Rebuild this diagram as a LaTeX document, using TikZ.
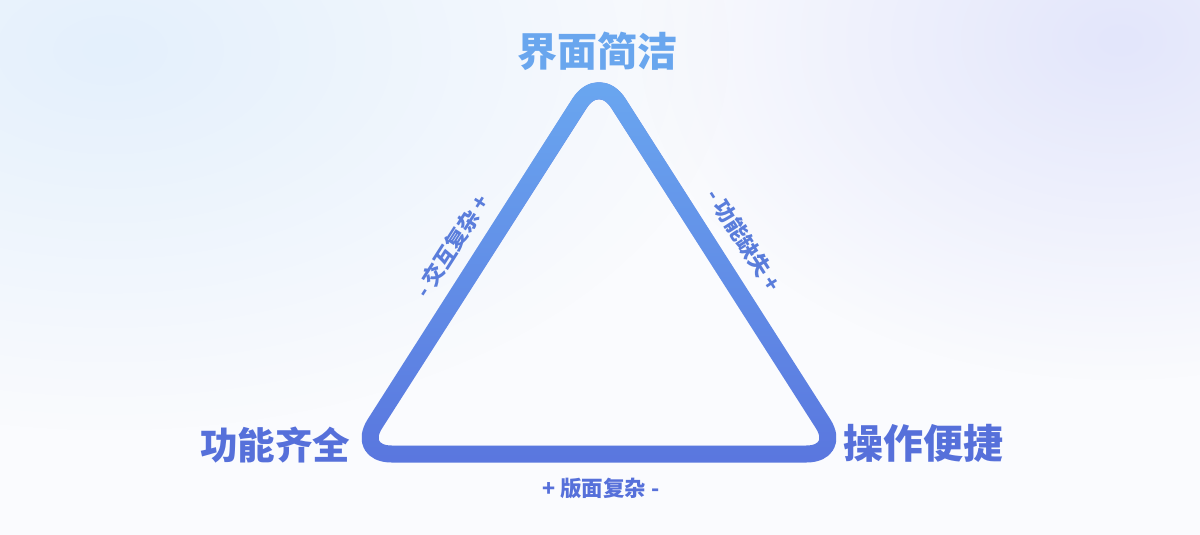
\documentclass[tikz,border=0pt]{standalone}
\usepackage{fontspec}
\newfontfamily\cjk{Noto Sans CJK SC}
\usetikzlibrary{fadings}
\definecolor{bgbase}{HTML}{FAFBFE}
\definecolor{bgA}{HTML}{E4F0FC}
\definecolor{bgB}{HTML}{E3E6FB}
\definecolor{tritop}{HTML}{6BA9F1}
\definecolor{tribot}{HTML}{5A77DF}
\definecolor{toptxt}{HTML}{69A6EE}
\definecolor{sidetxt}{HTML}{5670DA}
\definecolor{edgetxt}{HTML}{5A7DDB}
\tikzfading[name=radfade, inner color=transparent!0, outer color=transparent!100]
\tikzset{
  corner/.style={font=\cjk\bfseries\fontsize{40}{44}\selectfont, inner sep=0pt},
  edgelabel/.style={font=\cjk\bfseries\fontsize{21.5}{24}\selectfont, inner sep=0pt, text=edgetxt},
  tri/.style={line width=17pt, rounded corners=36pt, line join=round}
}
\begin{document}
\begin{tikzpicture}[x=1pt,y=-1pt]
\useasboundingbox (0,0) rectangle (1200,535);
% background
\fill[bgbase] (0,0) rectangle (1200,535);
\begin{scope}
\clip (0,0) rectangle (1200,535);
\fill[bgA, path fading=radfade] (110,50) ellipse [x radius=620, y radius=380];
\fill[bgB, path fading=radfade] (1120,40) ellipse [x radius=480, y radius=340];
\end{scope}
% triangle
\coordinate (A) at (599,73);
\coordinate (B) at (355.6,454);
\coordinate (C) at (842.4,454);
\coordinate (M) at (599,454);
\draw[tri, tribot] (M) -- (C) -- (A) -- (B) -- cycle;
\draw[tri, tritop, path fading=south] (M) -- (C) -- (A) -- (B) -- cycle;
% corner labels
\node[corner, text=toptxt] (top) at (597,51) {界面简洁};
\node[corner, text=sidetxt, font=\cjk\bfseries\fontsize{37.5}{40}\selectfont] (left) at (275,445) {功能齐全};
\node[corner, text=sidetxt] (right) at (923,443) {操作便捷};
% edge labels
\node[edgelabel, rotate=57.4] (le) at (452,246) {- 交互复杂 +};
\node[edgelabel, rotate=-57.4] (re) at (744,240) {- 功能缺失 +};
\node[edgelabel, text=sidetxt] (be) at (601,488) {+ 版面复杂 -};
\end{tikzpicture}
\end{document}
